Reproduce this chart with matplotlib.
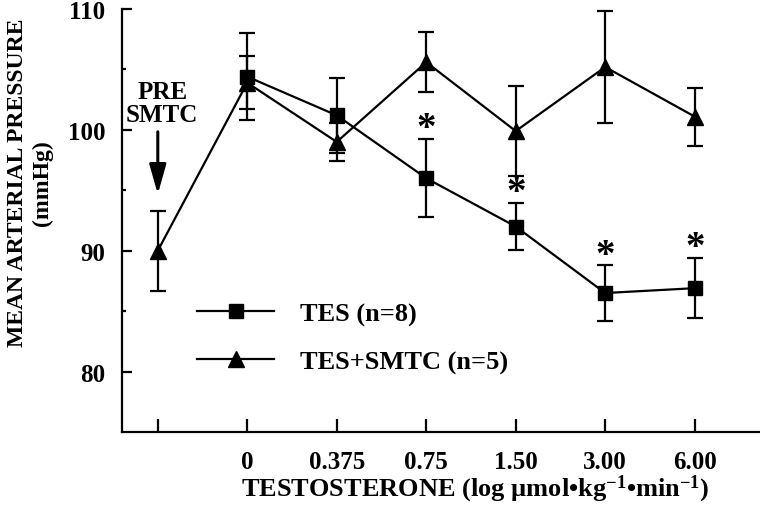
import matplotlib.pyplot as plt
import numpy as np
from matplotlib.ticker import FixedLocator

plt.rcParams['font.family'] = ['Liberation Serif', 'DejaVu Serif']
plt.rcParams['font.weight'] = 'bold'
plt.rcParams['mathtext.fontset'] = 'custom'
plt.rcParams['mathtext.rm'] = 'Liberation Serif:bold'
plt.rcParams['mathtext.bf'] = 'Liberation Serif:bold'
plt.rcParams['mathtext.it'] = 'Liberation Serif:bold'

# dose levels (first one is the PRE-SMTC baseline, no label)
doses = ["", "0", "0.375", "0.75", "1.50", "3.00", "6.00"]

# TES (n=8): mean and SEM, no PRE value
tes_mean = [np.nan, 104.4, 101.2, 96.0, 92.0, 86.5, 86.9]
tes_se = [np.nan, 3.6, 3.1, 3.25, 1.95, 2.3, 2.5]
tes_sig = [False, False, False, True, True, True, True]

# TES+SMTC (n=5)
smtc_mean = [90.0, 103.9, 99.0, 105.6, 99.9, 105.2, 101.1]
smtc_se = [3.3, 2.2, 1.6, 2.5, 3.7, 4.6, 2.4]

x = np.arange(len(doses))

fig = plt.figure(figsize=(7.6, 5.06), dpi=100)
ax = fig.add_axes([122 / 760, 1 - 433 / 506, 1 - 122 / 760, (433 - 10) / 506])

err_style = dict(color="black", lw=1.6, elinewidth=1.6, capsize=5.5, capthick=1.6)
c_smtc = ax.errorbar(x, smtc_mean, yerr=smtc_se, fmt="-^", ms=11, zorder=3, **err_style)
c_tes = ax.errorbar(x, tes_mean, yerr=tes_se, fmt="-s", ms=10, zorder=4, **err_style)

# significance stars above the TES error bars
for xi, m, s, sig in zip(x, tes_mean, tes_se, tes_sig):
    if sig:
        ax.text(xi, m + s + 0.05, "*", ha="center", va="baseline", fontsize=28)

# PRE SMTC arrow
ax.annotate("", xy=(0, 94.45), xytext=(0, 100.07),
            arrowprops=dict(arrowstyle="-|>,head_length=0.6,head_width=0.17",
                            color="black", lw=2.2, mutation_scale=30))
ax.text(0.05, 102.2, "PRE\nSMTC", ha="center", va="center", fontsize=18, linespacing=1.0)

ax.set_xlim(-0.40, 6.73)
ax.set_ylim(75, 110)

ax.spines["top"].set_visible(False)
ax.spines["right"].set_visible(False)
ax.spines["left"].set_linewidth(1.6)
ax.spines["bottom"].set_linewidth(1.6)

ax.set_xticks(x)
ax.set_xticklabels(doses)
ax.set_yticks([80, 90, 100, 110])
ax.yaxis.set_minor_locator(FixedLocator([85, 95, 105]))
ax.tick_params(axis="both", which="major", direction="in", width=1.6, labelsize=18)
ax.tick_params(axis="y", which="major", length=7, pad=12)
ax.tick_params(axis="x", which="major", length=9.5, pad=13)
ax.tick_params(axis="y", which="minor", direction="in", width=1.6, length=3)

fig.text(30 / 760, 1 - 183 / 506, "MEAN ARTERIAL PRESSURE\n(mmHg)", rotation=90,
         ha="center", va="center", multialignment="center", fontsize=17, linespacing=1.2)
fig.text(475 / 760, 1 - 489 / 506,
         r"TESTOSTERONE (log µmol•kg$^{-1}$•min$^{-1}$)",
         ha="center", va="center", fontsize=19)

ax.legend([c_tes.lines[0], c_smtc.lines[0]], ["TES (n=8)", "TES+SMTC (n=5)"],
          loc="upper left", bbox_to_anchor=(197 / 760, 1 - 303 / 506),
          bbox_transform=fig.transFigure, frameon=False, fontsize=19,
          handlelength=2.92, handletextpad=0.98, labelspacing=0.91,
          borderpad=0, borderaxespad=0, numpoints=1)

fig.savefig("out.png", dpi=100)
